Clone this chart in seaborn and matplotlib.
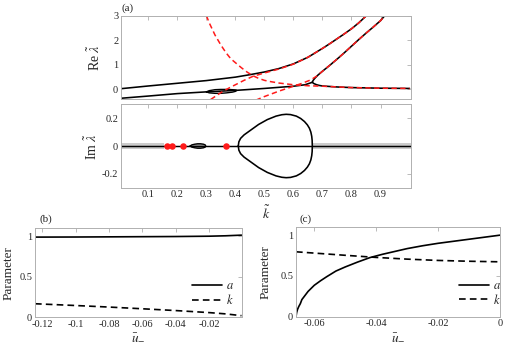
import numpy as np
import pandas as pd
import matplotlib
matplotlib.use("Agg")
import matplotlib.pyplot as plt
import seaborn as sns

# ---- panel (a), Re part: branches ----
re_upper_k = [0.006, 0.1, 0.2, 0.3, 0.4, 0.45, 0.5, 0.55, 0.6, 0.65, 0.7, 0.725, 0.75,
              0.775, 0.8, 0.825, 0.852]
re_upper = [0.02, 0.13, 0.24, 0.35, 0.49, 0.59, 0.70, 0.84, 1.03, 1.30, 1.66, 1.85, 2.05,
            2.25, 2.46, 2.70, 3.0]

re_lower_k = [0.006, 0.1, 0.2, 0.3, 0.4, 0.5, 0.6, 0.64, 0.665]
re_lower = [-0.37, -0.28, -0.18, -0.11, -0.05, 0.03, 0.12, 0.18, 0.28]

re_second_k = [0.665, 0.668, 0.675, 0.685, 0.7, 0.725, 0.75, 0.775, 0.8, 0.825, 0.85,
               0.875, 0.9, 0.915]
re_second = [0.28, 0.36, 0.46, 0.58, 0.73, 0.97, 1.22, 1.48, 1.75, 2.02, 2.28, 2.53,
             2.79, 3.0]

re_right_k = [0.665, 0.67, 0.68, 0.69, 0.7, 0.725, 0.75, 0.8, 0.9, 1.0]
re_right = [0.28, 0.23, 0.18, 0.15, 0.13, 0.11, 0.09, 0.065, 0.04, 0.03]

re_loop_k = [0.300, 0.31, 0.33, 0.35, 0.37, 0.39, 0.400, 0.405]
re_loop_top = [-0.11, -0.06, -0.02, -0.01, -0.01, -0.02, -0.03, -0.05]
re_loop_bot = [-0.11, -0.15, -0.17, -0.17, -0.15, -0.12, -0.09, -0.05]

# red dashed (asymptotic) curves
dash_b_k = [0.3, 0.31, 0.32, 0.33, 0.34, 0.35, 0.36, 0.37, 0.38, 0.39, 0.4, 0.42, 0.44,
            0.46, 0.48, 0.5, 0.52, 0.55, 0.6, 0.65, 0.7, 0.8, 0.9, 1.0]
dash_b = [3.0, 2.7, 2.45, 2.2, 2.0, 1.8, 1.62, 1.45, 1.3, 1.18, 1.08, 0.88, 0.70,
          0.55, 0.44, 0.36, 0.31, 0.25, 0.18, 0.14, 0.12, 0.065, 0.04, 0.03]

dash_a_k = [0.315, 0.33, 0.35, 0.38, 0.4, 0.43, 0.46, 0.5, 0.55, 0.6, 0.65, 0.7, 0.725,
            0.75, 0.775, 0.8, 0.825, 0.852]
dash_a = [-0.42, -0.3, -0.14, 0.06, 0.18, 0.36, 0.52, 0.66, 0.82, 1.02, 1.30, 1.66, 1.85,
          2.05, 2.25, 2.46, 2.70, 3.0]

dash_c_k = [0.47, 0.5, 0.55, 0.6, 0.63, 0.66, 0.68, 0.7, 0.725, 0.75, 0.775, 0.8, 0.825,
            0.85, 0.875, 0.9, 0.915]
dash_c = [-0.45, -0.3, -0.08, 0.12, 0.24, 0.38, 0.53, 0.73, 0.97, 1.22, 1.48, 1.75, 2.02,
          2.28, 2.53, 2.79, 3.0]

# ---- panel (a), Im part ----
im_axis_k = [0.006, 1.005]
im_axis = [0.0, 0.0]
band_left_k = [0.006, 0.155]
band_right_k = [0.665, 1.005]
band_half = 0.018

im_big_k = [0.41, 0.412, 0.418, 0.43, 0.45, 0.48, 0.51, 0.54, 0.56, 0.575, 0.59, 0.61,
            0.625, 0.638, 0.648, 0.655, 0.66, 0.663, 0.6645, 0.665]
im_big = [0.0, 0.03, 0.055, 0.08, 0.11, 0.155, 0.19, 0.215, 0.225, 0.228, 0.226, 0.215,
          0.198, 0.176, 0.152, 0.128, 0.10, 0.07, 0.04, 0.0]

im_small_k = [0.244, 0.25, 0.26, 0.27, 0.28, 0.29, 0.296, 0.298]
im_small = [0.0, 0.008, 0.013, 0.016, 0.016, 0.013, 0.008, 0.0]

dots_k = [0.166, 0.183, 0.221, 0.369]
dots_im = [0.0, 0.0, 0.0, 0.0]

# ---- panel (b) ----
b_u = [-0.1245, -0.12, -0.10, -0.08, -0.06, -0.04, -0.02, -0.01, -0.0005]
b_a = [0.988, 0.988, 0.989, 0.991, 0.993, 0.995, 0.999, 1.004, 1.012]
b_k = [0.167, 0.163, 0.145, 0.126, 0.105, 0.083, 0.058, 0.042, 0.02]

# ---- panel (c) ----
c_u = [-0.0659, -0.0657, -0.0654, -0.065, -0.0645, -0.064, -0.063, -0.062, -0.06, -0.058,
       -0.056, -0.053, -0.05, -0.046, -0.042, -0.038, -0.034, -0.03, -0.025, -0.02,
       -0.015, -0.01, -0.005, 0.0]
c_a = [0.0, 0.05, 0.09, 0.125, 0.16, 0.21, 0.26, 0.31, 0.385, 0.44,
       0.49, 0.56, 0.61, 0.67, 0.725, 0.765, 0.80, 0.835, 0.87, 0.90,
       0.925, 0.95, 0.975, 1.0]
c_k_u = [-0.0659, -0.06, -0.05, -0.04, -0.03, -0.02, -0.01, 0.0]
c_k = [0.796, 0.78, 0.753, 0.727, 0.706, 0.69, 0.68, 0.673]

k_ticks = [0.1, 0.2, 0.3, 0.4, 0.5, 0.6, 0.7, 0.8, 0.9]
k_ticklabels = ["0.1", "0.2", "0.3", "0.4", "0.5", "0.6", "0.7", "0.8", "0.9"]
re_ticks = [0, 1, 2, 3]
im_ticks = [-0.2, 0, 0.2]
im_ticklabels = ["-0.2", "0", "0.2"]
par_ticks = [0, 0.5, 1]
par_ticklabels = ["0", "0.5", "1"]
b_ticks = [-0.12, -0.1, -0.08, -0.06, -0.04, -0.02]
b_ticklabels = ["-0.12", "-0.1", "-0.08", "-0.06", "-0.04", "-0.02"]
c_ticks = [-0.06, -0.04, -0.02, 0]
c_ticklabels = ["-0.06", "-0.04", "-0.02", "0"]

sns.set_style("white")
plt.rcParams["font.family"] = ["Liberation Serif", "DejaVu Serif"]
plt.rcParams["mathtext.fontset"] = "stix"
plt.rcParams["axes.unicode_minus"] = False

GREY = "#b0b0b0"
TXT = "#262626"


def line(ax, x, y, **kw):
    sns.lineplot(x=x, y=y, ax=ax, sort=False, estimator=None, **kw)


def style(ax):
    for s in ax.spines.values():
        s.set_color(GREY)
        s.set_linewidth(0.7)
    ax.tick_params(direction="in", top=True, right=True, length=3, width=0.6,
                   color=GREY, labelcolor=TXT, labelsize=7.5, pad=2)
    ax.set_xlabel("")
    ax.set_ylabel("")


fig = plt.figure(figsize=(5.21, 3.47), dpi=100)
W, H = 521.0, 347.0


def box(l, t, r, b):
    return fig.add_axes([l / W, 1 - b / H, (r - l) / W, (b - t) / H])


ax_re = box(121, 15.5, 411, 99)
ax_im = box(121, 104.3, 411, 187.7)
ax_b = box(35, 228, 241.5, 317.3)
ax_c = box(296, 227, 500, 316.7)

# Re panel
lw = 1.15
line(ax_re, re_upper_k, re_upper, color="black", lw=lw)
line(ax_re, re_lower_k, re_lower, color="black", lw=lw)
line(ax_re, re_second_k, re_second, color="black", lw=lw)
line(ax_re, re_right_k, re_right, color="black", lw=lw)
line(ax_re, re_loop_k + re_loop_k[::-1], re_loop_top + re_loop_bot[::-1], color="black", lw=1.0)
for xk, yv in [(dash_b_k, dash_b), (dash_a_k, dash_a), (dash_c_k, dash_c)]:
    line(ax_re, xk, yv, color="#ff1a1a", lw=1.1, linestyle=(0, (3.5, 2.2)))
ax_re.set_xlim(0.006, 1.005)
ax_re.set_ylim(-0.4, 3.0)
ax_re.set_xticks(k_ticks)
ax_re.set_yticks(re_ticks)
style(ax_re)
ax_re.tick_params(labelbottom=False)
ax_re.set_ylabel(r"Re $\tilde{\lambda}$", fontsize=10, color=TXT)
ax_re.yaxis.set_label_coords(-0.063, 0.5)

# Im panel
for bk in (band_left_k, band_right_k):
    ax_im.fill_between(bk, [-band_half] * 2, [band_half] * 2, color="#cccccc", lw=0)
line(ax_im, im_axis_k, im_axis, color="black", lw=1.05)
ax_im.fill(im_small_k + im_small_k[::-1], im_small + [-v for v in im_small[::-1]],
           color="#9a9a9a", lw=0)
line(ax_im, im_small_k + im_small_k[::-1], im_small + [-v for v in im_small[::-1]],
     color="black", lw=1.0)
line(ax_im, im_big_k + im_big_k[::-1], im_big + [-v for v in im_big[::-1]],
     color="black", lw=lw)
sns.scatterplot(x=dots_k, y=dots_im, ax=ax_im, color="#ff1a1a", s=22, linewidth=0, zorder=5)
ax_im.set_xlim(0.006, 1.005)
ax_im.set_ylim(-0.3, 0.3)
ax_im.set_xticks(k_ticks)
ax_im.set_xticklabels(k_ticklabels)
ax_im.set_yticks(im_ticks)
ax_im.set_yticklabels(im_ticklabels)
style(ax_im)
ax_im.set_ylabel(r"Im $\tilde{\lambda}$", fontsize=10, color=TXT)
ax_im.yaxis.set_label_coords(-0.072, 0.5)
ax_im.set_xlabel(r"$\tilde{k}$", fontsize=10, color=TXT)
ax_im.xaxis.set_label_coords(0.5, -0.2)

# bottom panels
for ax, u, a, ku, kk, ticks, labels, xl, lx in [
    (ax_b, b_u, b_a, b_u, b_k, b_ticks, b_ticklabels, (-0.1245, -0.0005), 1.0),
    (ax_c, c_u, c_a, c_k_u, c_k, c_ticks, c_ticklabels, (-0.0659, 0.0), 1.04),
]:
    line(ax, u, a, color="black", lw=1.2, label="$a$")
    line(ax, ku, kk, color="black", lw=1.2, linestyle=(0, (4, 2.5)), label="$k$")
    ax.set_xlim(*xl)
    ax.set_ylim(0, 1.1)
    ax.set_xticks(ticks)
    ax.set_xticklabels(labels)
    ax.set_yticks(par_ticks)
    ax.set_yticklabels(par_ticklabels)
    style(ax)
    ax.set_ylabel("Parameter", fontsize=9.5, color=TXT)
    ax.set_xlabel(r"$\bar{u}_{-}$", fontsize=9.5, color=TXT)
    ax.xaxis.set_label_coords(0.5, -0.17)
    leg = ax.legend(loc="lower right", bbox_to_anchor=(lx, 0.03), frameon=False,
                    fontsize=9, handlelength=2.4, handletextpad=0.3, labelspacing=0.05,
                    borderpad=0.1)
ax_b.yaxis.set_label_coords(-0.1, 0.5)
ax_c.yaxis.set_label_coords(-0.12, 0.5)

fig.text(122 / W, 1 - 8 / H, "(a)", fontsize=8, color=TXT, va="center", ha="left")
fig.text(40 / W, 1 - 219 / H, "(b)", fontsize=8, color=TXT, va="center", ha="left")
fig.text(300 / W, 1 - 219 / H, "(c)", fontsize=8, color=TXT, va="center", ha="left")

fig.savefig("out.png", dpi=100)
